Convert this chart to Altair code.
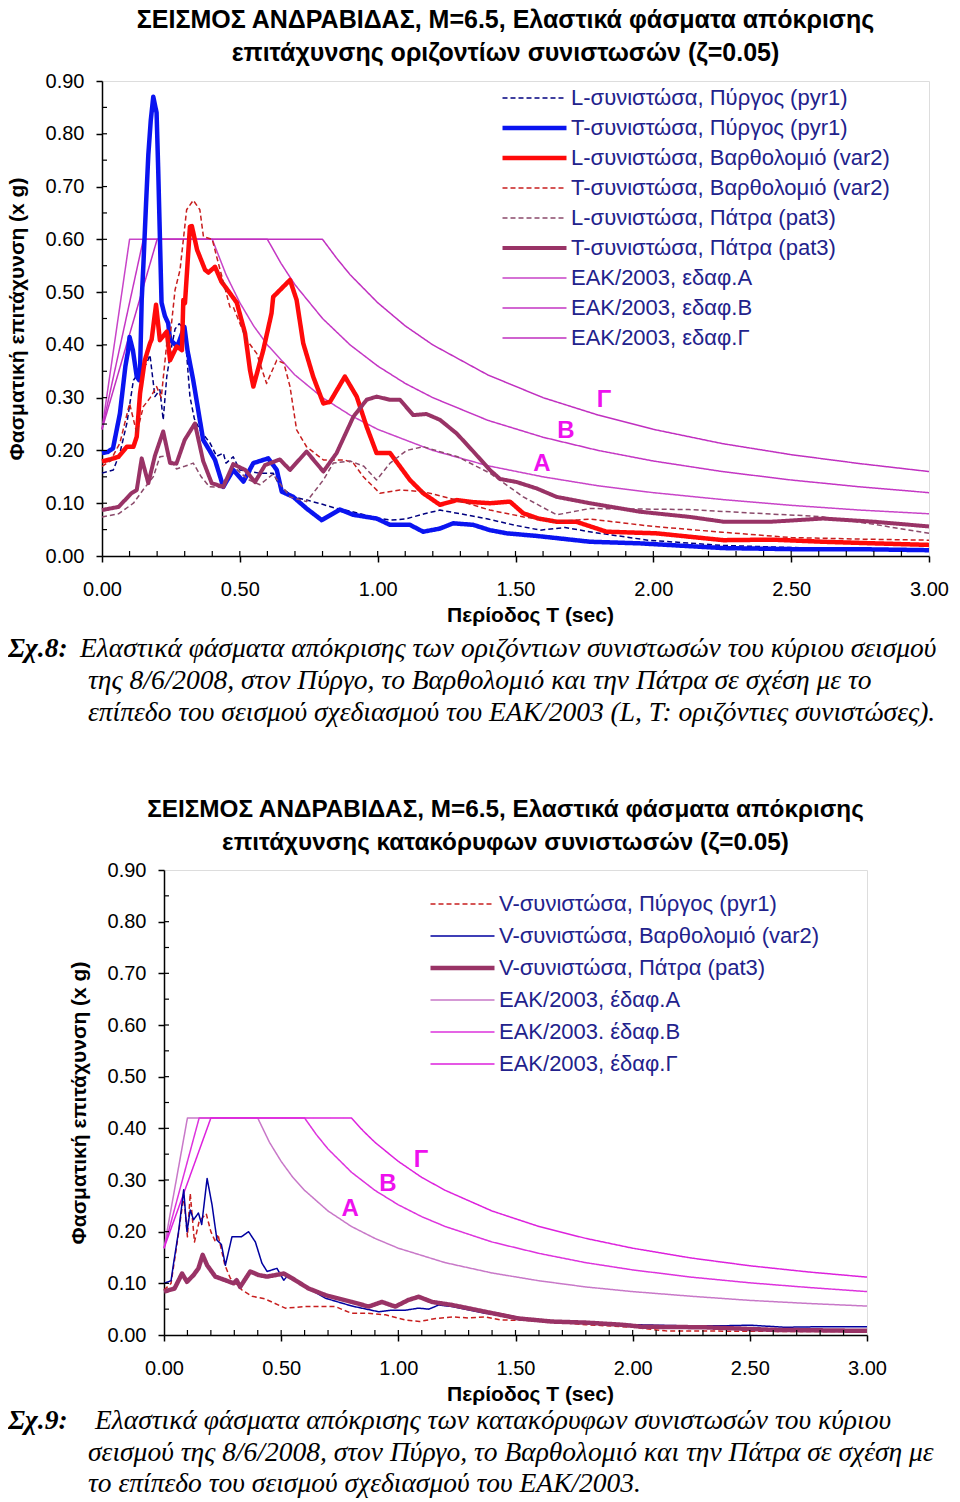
import altair as alt
import pandas as pd

FONT = "Liberation Sans"
SERIF = "Liberation Serif"

# ---------------- Chart 1 (horizontal components) ----------------
S1 = ["L-συνιστώσα, Πύργος (pyr1)", "T-συνιστώσα, Πύργος (pyr1)",
      "L-συνιστώσα, Βαρθολομιό (var2)", "T-συνιστώσα, Βαρθολομιό (var2)",
      "L-συνιστώσα, Πάτρα (pat3)", "T-συνιστώσα, Πάτρα (pat3)",
      "ΕΑΚ/2003, εδαφ.Α", "ΕΑΚ/2003, εδαφ.Β", "ΕΑΚ/2003, εδαφ.Γ"]

L_pyr1_T = [0.0, 0.041, 0.065, 0.09, 0.114, 0.138, 0.162, 0.174, 0.192, 0.21, 0.222, 0.235, 0.25, 0.265, 0.28, 0.3,
            0.319, 0.335, 0.355, 0.392, 0.416, 0.44, 0.45, 0.476, 0.5, 0.57, 0.621, 0.645, 0.694, 0.75, 0.8, 0.85,
            0.9, 0.95, 1.0, 1.05, 1.1, 1.17, 1.226, 1.3, 1.4, 1.5, 1.59, 1.68, 1.78, 1.98, 2.25, 2.5, 2.75, 3.0]
L_pyr1_V = [0.157, 0.163, 0.195, 0.251, 0.333, 0.35, 0.365, 0.381, 0.302, 0.315, 0.258, 0.34, 0.39, 0.43, 0.44, 0.43,
            0.302, 0.26, 0.239, 0.214, 0.189, 0.195, 0.176, 0.188, 0.163, 0.157, 0.157, 0.132, 0.112, 0.105, 0.098, 0.09,
            0.085, 0.078, 0.072, 0.068, 0.07, 0.08, 0.087, 0.08, 0.07, 0.058, 0.049, 0.054, 0.045, 0.03, 0.02, 0.016, 0.014, 0.012]

T_pyr1_T = [0.0, 0.02, 0.04, 0.065, 0.085, 0.095, 0.1, 0.112, 0.126, 0.135, 0.138, 0.144, 0.15, 0.16, 0.168, 0.177,
            0.186, 0.198, 0.204, 0.21, 0.216, 0.228, 0.24, 0.247, 0.273, 0.299, 0.31, 0.331, 0.367, 0.39, 0.41, 0.44,
            0.476, 0.513, 0.549, 0.603, 0.634, 0.652, 0.694, 0.742, 0.797, 0.863, 0.912, 0.996, 1.045, 1.117, 1.165,
            1.226, 1.274, 1.347, 1.407, 1.468, 1.577, 1.77, 1.95, 2.254, 2.5, 2.73, 3.0]
T_pyr1_V = [0.195, 0.197, 0.204, 0.27, 0.36, 0.39, 0.415, 0.39, 0.34, 0.333, 0.35, 0.485, 0.55, 0.67, 0.76, 0.826,
            0.87, 0.84, 0.73, 0.605, 0.48, 0.455, 0.441, 0.41, 0.397, 0.434, 0.39, 0.333, 0.22, 0.2, 0.182, 0.131,
            0.163, 0.141, 0.176, 0.185, 0.163, 0.122, 0.112, 0.09, 0.068, 0.088, 0.078, 0.071, 0.059, 0.059, 0.046,
            0.052, 0.062, 0.059, 0.049, 0.043, 0.038, 0.027, 0.024, 0.015, 0.013, 0.013, 0.011]

L_var2_T = [0.0, 0.03, 0.06, 0.09, 0.114, 0.126, 0.138, 0.155, 0.174, 0.18, 0.196, 0.21, 0.235, 0.247, 0.271, 0.29,
            0.295, 0.301, 0.319, 0.326, 0.345, 0.374, 0.386, 0.41, 0.433, 0.464, 0.489, 0.519, 0.537, 0.549, 0.585,
            0.615, 0.621, 0.682, 0.706, 0.73, 0.766, 0.803, 0.827, 0.881, 0.924, 0.96, 0.996, 1.045, 1.117, 1.165,
            1.226, 1.287, 1.347, 1.407, 1.48, 1.528, 1.583, 1.649, 1.72, 1.83, 2.01, 2.254, 2.43, 2.616, 2.8, 3.0]
L_var2_V = [0.179, 0.183, 0.188, 0.207, 0.207, 0.226, 0.308, 0.37, 0.403, 0.41, 0.476, 0.409, 0.425, 0.371, 0.397, 0.39,
            0.485, 0.479, 0.624, 0.625, 0.58, 0.542, 0.537, 0.548, 0.52, 0.498, 0.48, 0.422, 0.352, 0.321, 0.39,
            0.46, 0.491, 0.523, 0.485, 0.403, 0.34, 0.289, 0.292, 0.34, 0.302, 0.245, 0.195, 0.195, 0.144, 0.119,
            0.097, 0.106, 0.102, 0.1, 0.103, 0.081, 0.071, 0.065, 0.065, 0.046, 0.043, 0.03, 0.031, 0.027, 0.024, 0.021]

T_var2_T = [0.0, 0.03, 0.065, 0.1, 0.126, 0.15, 0.175, 0.198, 0.215, 0.235, 0.247, 0.265, 0.283, 0.307, 0.331, 0.355,
            0.368, 0.4, 0.416, 0.464, 0.476, 0.525, 0.561, 0.597, 0.634, 0.66, 0.682, 0.706, 0.742, 0.803, 0.88, 0.912,
            0.948, 1.008, 1.08, 1.165, 1.287, 1.407, 1.53, 1.65, 1.77, 2.0, 2.25, 2.5, 2.75, 3.0]
T_var2_V = [0.17, 0.18, 0.214, 0.289, 0.233, 0.283, 0.3, 0.321, 0.3, 0.403, 0.415, 0.504, 0.542, 0.656, 0.674, 0.656,
            0.605, 0.6, 0.567, 0.472, 0.472, 0.409, 0.384, 0.327, 0.371, 0.365, 0.321, 0.239, 0.207, 0.182, 0.182, 0.176,
            0.15, 0.119, 0.125, 0.122, 0.106, 0.087, 0.074, 0.065, 0.07, 0.056, 0.045, 0.035, 0.032, 0.03]

L_pat3_T = [0.0, 0.06, 0.114, 0.15, 0.186, 0.21, 0.24, 0.27, 0.3, 0.331, 0.36, 0.39, 0.43, 0.476, 0.53, 0.573, 0.62,
            0.682, 0.742, 0.803, 0.839, 0.9, 0.95, 0.996, 1.045, 1.105, 1.165, 1.29, 1.407, 1.528, 1.65, 1.77, 2.13,
            2.37, 2.6, 2.8, 3.0]
L_pat3_V = [0.074, 0.08, 0.1, 0.126, 0.15, 0.188, 0.19, 0.165, 0.17, 0.176, 0.15, 0.131, 0.13, 0.17, 0.145, 0.135, 0.155,
            0.112, 0.103, 0.144, 0.176, 0.18, 0.17, 0.144, 0.176, 0.2, 0.207, 0.188, 0.157, 0.112, 0.078, 0.09, 0.088,
            0.081, 0.075, 0.06, 0.043]

T_pat3_T = [0.0, 0.06, 0.107, 0.126, 0.144, 0.168, 0.192, 0.222, 0.247, 0.27, 0.3, 0.337, 0.367, 0.398, 0.44, 0.476,
            0.52, 0.555, 0.591, 0.645, 0.682, 0.742, 0.803, 0.851, 0.912, 0.96, 0.996, 1.045, 1.081, 1.129, 1.177,
            1.226, 1.287, 1.347, 1.407, 1.444, 1.505, 1.577, 1.649, 1.77, 1.95, 2.133, 2.254, 2.43, 2.616, 2.8, 3.0]
T_pat3_V = [0.087, 0.093, 0.119, 0.125, 0.185, 0.138, 0.19, 0.236, 0.176, 0.175, 0.22, 0.251, 0.18, 0.138, 0.131, 0.174,
            0.163, 0.14, 0.172, 0.183, 0.163, 0.198, 0.16, 0.195, 0.264, 0.296, 0.302, 0.296, 0.296, 0.267, 0.269,
            0.258, 0.232, 0.198, 0.163, 0.146, 0.14, 0.128, 0.112, 0.1, 0.084, 0.074, 0.065, 0.065, 0.071, 0.065, 0.056]

EAK1_A_T = [0.0, 0.1, 0.4, 0.45, 0.5, 0.55, 0.6, 0.7, 0.8, 0.9, 1.0, 1.2, 1.4, 1.6, 1.8, 2.0, 2.25, 2.5, 2.75, 3.0]
EAK1_A_V = [0.24, 0.6, 0.6, 0.533, 0.48, 0.436, 0.4, 0.343, 0.3, 0.267, 0.24, 0.2, 0.171, 0.15, 0.133, 0.12, 0.107, 0.096, 0.087, 0.08]
EAK1_B_T = [0.0, 0.15, 0.6, 0.65, 0.7, 0.8, 0.9, 1.0, 1.1, 1.2, 1.4, 1.6, 1.8, 2.0, 2.25, 2.5, 2.75, 3.0]
EAK1_B_V = [0.24, 0.6, 0.6, 0.554, 0.514, 0.45, 0.4, 0.36, 0.327, 0.3, 0.257, 0.225, 0.2, 0.18, 0.16, 0.144, 0.131, 0.12]
EAK1_G_T = [0.0, 0.2, 0.8, 0.85, 0.9, 1.0, 1.1, 1.2, 1.4, 1.6, 1.8, 2.0, 2.25, 2.5, 2.75, 3.0]
EAK1_G_V = [0.24, 0.6, 0.6, 0.565, 0.533, 0.48, 0.436, 0.4, 0.343, 0.3, 0.267, 0.24, 0.213, 0.192, 0.175, 0.16]

COL1 = ["#000080", "#0a14f0", "#ff0a0a", "#c81e1e", "#8b4a6b", "#993366", "#c844c8", "#c436c4", "#c030c0"]
WID1 = [1.5, 4.5, 4.5, 1.5, 1.5, 4, 1.5, 1.5, 1.5]
DASH1 = [[5, 3], [1, 0], [1, 0], [5, 3], [5, 3], [1, 0], [1, 0], [1, 0], [1, 0]]

TITLE1 = ["ΣΕΙΣΜΟΣ ΑΝΔΡΑΒΙΔΑΣ, M=6.5, Ελαστικά φάσματα απόκρισης",
          "επιτάχυνσης οριζοντίων συνιστωσών (ζ=0.05)"]
CAP1_HEAD = "Σχ.8:"
CAP1 = ["Ελαστικά φάσματα απόκρισης των οριζόντιων συνιστωσών του κύριου σεισμού",
        "της 8/6/2008, στον Πύργο, το Βαρθολομιό και την Πάτρα σε σχέση με το",
        "επίπεδο του σεισμού σχεδιασμού του ΕΑΚ/2003 (L, T: οριζόντιες συνιστώσες)."]
LAB1_T = [1.596, 1.683, 1.821]
LAB1_V = [0.174, 0.237, 0.296]
LAB_TXT = ["Α", "Β", "Γ"]

# ---------------- Chart 2 (vertical components) ----------------
S2 = ["V-συνιστώσα, Πύργος (pyr1)", "V-συνιστώσα, Βαρθολομιό (var2)", "V-συνιστώσα, Πάτρα (pat3)",
      "ΕΑΚ/2003, έδαφ.Α", "ΕΑΚ/2003. έδαφ.Β", "ΕΑΚ/2003, έδαφ.Γ"]

V_pyr1_T = [0.0, 0.03, 0.05, 0.063, 0.084, 0.1, 0.112, 0.13, 0.15, 0.18, 0.2, 0.22, 0.23, 0.26, 0.283, 0.333, 0.376,
            0.43, 0.518, 0.6, 0.66, 0.731, 0.8, 0.87, 0.945, 1.03, 1.09, 1.16, 1.23, 1.3, 1.37, 1.44, 1.58, 1.8, 2.0,
            2.14, 2.6, 3.0]
V_pyr1_V = [0.087, 0.1, 0.16, 0.2, 0.27, 0.19, 0.274, 0.18, 0.22, 0.235, 0.2, 0.18, 0.195, 0.135, 0.11, 0.087, 0.075,
            0.07, 0.052, 0.055, 0.055, 0.055, 0.042, 0.042, 0.039, 0.029, 0.026, 0.032, 0.035, 0.033, 0.035, 0.029,
            0.028, 0.02, 0.015, 0.008, 0.007, 0.007]

V_var2_T = [0.0, 0.03, 0.041, 0.063, 0.084, 0.098, 0.112, 0.126, 0.147, 0.161, 0.184, 0.205, 0.226, 0.245, 0.262,
            0.29, 0.33, 0.361, 0.39, 0.418, 0.44, 0.482, 0.511, 0.53, 0.617, 0.69, 0.802, 0.916, 0.97, 1.03, 1.087,
            1.13, 1.172, 1.23, 1.371, 1.513, 1.656, 1.8, 2.0, 2.2, 2.4, 2.5, 2.65, 2.8, 3.0]
V_var2_V = [0.1, 0.105, 0.139, 0.203, 0.281, 0.2, 0.242, 0.223, 0.236, 0.214, 0.303, 0.252, 0.184, 0.175, 0.135,
            0.19, 0.19, 0.2, 0.18, 0.139, 0.123, 0.129, 0.106, 0.116, 0.09, 0.071, 0.056, 0.045, 0.048, 0.048, 0.052,
            0.05, 0.058, 0.055, 0.042, 0.033, 0.026, 0.024, 0.02, 0.018, 0.018, 0.019, 0.015, 0.016, 0.016]

V_pat3_T = [0.0, 0.045, 0.077, 0.098, 0.126, 0.147, 0.165, 0.184, 0.219, 0.262, 0.297, 0.31, 0.325, 0.368, 0.404, 0.44,
            0.511, 0.546, 0.617, 0.69, 0.802, 0.873, 0.93, 0.987, 1.044, 1.087, 1.144, 1.23, 1.371, 1.513, 1.656, 1.8,
            1.95, 2.04, 2.3, 2.6, 3.0]
V_pat3_V = [0.084, 0.09, 0.119, 0.103, 0.116, 0.129, 0.155, 0.135, 0.113, 0.106, 0.1, 0.106, 0.093, 0.123, 0.116, 0.113,
            0.119, 0.11, 0.09, 0.077, 0.064, 0.055, 0.064, 0.055, 0.068, 0.074, 0.064, 0.058, 0.045, 0.032, 0.026, 0.024,
            0.02, 0.016, 0.015, 0.01, 0.008]

EAK2_A_T = [0.0, 0.1, 0.4, 0.45, 0.5, 0.55, 0.6, 0.7, 0.8, 0.9, 1.0, 1.2, 1.4, 1.6, 1.8, 2.0, 2.25, 2.5, 2.75, 3.0]
EAK2_A_V = [0.168, 0.42, 0.42, 0.373, 0.336, 0.305, 0.28, 0.24, 0.21, 0.187, 0.168, 0.14, 0.12, 0.105, 0.093, 0.084, 0.075, 0.067, 0.061, 0.056]
EAK2_B_T = [0.0, 0.15, 0.6, 0.65, 0.7, 0.8, 0.9, 1.0, 1.1, 1.2, 1.4, 1.6, 1.8, 2.0, 2.25, 2.5, 2.75, 3.0]
EAK2_B_V = [0.168, 0.42, 0.42, 0.388, 0.36, 0.315, 0.28, 0.252, 0.229, 0.21, 0.18, 0.158, 0.14, 0.126, 0.112, 0.101, 0.092, 0.084]
EAK2_G_T = [0.0, 0.2, 0.8, 0.85, 0.9, 1.0, 1.1, 1.2, 1.4, 1.6, 1.8, 2.0, 2.25, 2.5, 2.75, 3.0]
EAK2_G_V = [0.168, 0.42, 0.42, 0.395, 0.373, 0.336, 0.305, 0.28, 0.24, 0.21, 0.187, 0.168, 0.149, 0.134, 0.122, 0.112]

COL2 = ["#c81e1e", "#0000a0", "#993366", "#c878c8", "#dd33dd", "#dd22dd"]
WID2 = [1.5, 1.5, 4.5, 1.5, 1.5, 1.5]
DASH2 = [[5, 3], [1, 0], [1, 0], [1, 0], [1, 0], [1, 0]]

TITLE2 = ["ΣΕΙΣΜΟΣ ΑΝΔΡΑΒΙΔΑΣ, M=6.5, Ελαστικά φάσματα απόκρισης",
          "επιτάχυνσης κατακόρυφων συνιστωσών (ζ=0.05)"]
CAP2_HEAD = "Σχ.9:"
CAP2 = ["Ελαστικά φάσματα απόκρισης των κατακόρυφων συνιστωσών του κύριου",
        "σεισμού της 8/6/2008, στον Πύργο, το Βαρθολομιό και την Πάτρα σε σχέση με",
        "το επίπεδο του σεισμού σχεδιασμού του ΕΑΚ/2003."]
LAB2_T = [0.794, 0.956, 1.097]
LAB2_V = [0.244, 0.292, 0.339]

X_MAJOR = [0.0, 0.5, 1.0, 1.5, 2.0, 2.5, 3.0]
Y_MAJOR = [0.0, 0.1, 0.2, 0.3, 0.4, 0.5, 0.6, 0.7, 0.8, 0.9]
X_MINOR = [round(i * 0.1, 2) for i in range(1, 30)]
Y_MINOR = [round(i * 0.05, 2) for i in range(1, 18)]


def long_df(names, pairs):
    rows = []
    for name, (ts, vs) in zip(names, pairs):
        for t, v in zip(ts, vs):
            rows.append({"series": name, "T": t, "v": v})
    return pd.DataFrame(rows)


def build(names, pairs, cols, wids, dashes, W, H, title, title_size, legend_x, legend_y, clip,
          lab_t, lab_v, cap_head, cap_lines, cap_pos, xtitle_x):
    df = long_df(names, pairs)
    # draw design spectra underneath
    df = pd.concat([df[df["series"].str.startswith("ΕΑΚ")], df[~df["series"].str.startswith("ΕΑΚ")]])
    xs = alt.Scale(domain=[0, 3], nice=False, zero=False)
    ys = alt.Scale(domain=[0, 0.9], nice=False, zero=False)
    xax = alt.Axis(values=X_MAJOR, format=".2f", title="Περίοδος T (sec)", titleFont=FONT, titleFontSize=21,
                   titleFontWeight="bold", titleColor="black", titlePadding=5, titleX=xtitle_x,
                   labelFont=FONT, labelFontSize=20, labelColor="black", labelPadding=17,
                   tickSize=6, tickColor="black", tickWidth=1.5, domainColor="black", domainWidth=1.5,
                   grid=False, labelFlush=False)
    yax = alt.Axis(values=Y_MAJOR, format=".2f", title="Φασματική επιτάχυνση (x g)", titleFont=FONT,
                   titleFontSize=21, titleFontWeight="bold", titleColor="black", titlePadding=18,
                   labelFont=FONT, labelFontSize=20, labelColor="black", labelPadding=12,
                   tickSize=6, tickColor="black", tickWidth=1.5, domainColor="black", domainWidth=1.5,
                   grid=False)
    leg = alt.Legend(orient="none", legendX=legend_x, legendY=legend_y, title=None, symbolType="stroke",
                     symbolSize=4096, clipHeight=clip, rowPadding=0, labelFont=FONT, labelFontSize=22,
                     labelColor="#22228c", labelOffset=2, padding=0, labelLimit=500)
    lines = alt.Chart(df).mark_line(strokeJoin="round", strokeCap="butt").encode(
        x=alt.X("T:Q", scale=xs, axis=xax),
        y=alt.Y("v:Q", scale=ys, axis=yax),
        color=alt.Color("series:N", scale=alt.Scale(domain=names, range=cols), legend=leg),
        strokeDash=alt.StrokeDash("series:N", scale=alt.Scale(domain=names, range=dashes), legend=leg),
        strokeWidth=alt.StrokeWidth("series:N", scale=alt.Scale(type="ordinal", domain=names, range=wids),
                                    legend=leg),
        detail="series:N",
    )
    labs = alt.Chart(pd.DataFrame({"T": lab_t, "v": lab_v, "t": LAB_TXT})).mark_text(
        font=FONT, fontSize=24, fontWeight="bold", color="#ee11ee", align="center", baseline="middle"
    ).encode(x=alt.X("T:Q", scale=xs), y=alt.Y("v:Q", scale=ys), text="t:N")
    xmin = alt.Chart(pd.DataFrame({"T": X_MINOR})).mark_rule(color="black", strokeWidth=1.2).encode(
        x=alt.X("T:Q", scale=xs), y=alt.value(H), y2=alt.value(H - 5))
    ymin = alt.Chart(pd.DataFrame({"v": Y_MINOR})).mark_rule(color="black", strokeWidth=1.2).encode(
        y=alt.Y("v:Q", scale=ys), x=alt.value(0), x2=alt.value(5))
    layers = [lines, labs, xmin, ymin]
    hx, l1x, lx, y0, dy = cap_pos
    layers.append(alt.Chart(pd.DataFrame({"t": [cap_head]})).mark_text(
        align="left", baseline="alphabetic", font=SERIF, fontSize=27.5, fontStyle="italic", fontWeight="bold",
        color="black").encode(x=alt.value(hx), y=alt.value(y0), text="t:N"))
    for i, line in enumerate(cap_lines):
        layers.append(alt.Chart(pd.DataFrame({"t": [line]})).mark_text(
            align="left", baseline="alphabetic", font=SERIF, fontSize=27.5, fontStyle="italic",
            color="black").encode(x=alt.value(l1x if i == 0 else lx), y=alt.value(y0 + i * dy), text="t:N"))
    return alt.layer(*layers).properties(
        width=W, height=H,
        title=alt.Title(text=title, font=FONT, fontSize=title_size, fontWeight="bold", color="black",
                        anchor="middle", dx=-10, offset=5, lineHeight=33),
    )


c1 = build(S1, [(L_pyr1_T, L_pyr1_V), (T_pyr1_T, T_pyr1_V), (L_var2_T, L_var2_V), (T_var2_T, T_var2_V),
                (L_pat3_T, L_pat3_V), (T_pat3_T, T_pat3_V), (EAK1_A_T, EAK1_A_V), (EAK1_B_T, EAK1_B_V),
                (EAK1_G_T, EAK1_G_V)],
           COL1, WID1, DASH1, 827, 475, TITLE1, 25, 398, 2, 30, LAB1_T, LAB1_V,
           CAP1_HEAD, CAP1, (-94, -22, -14, 576, 32), 428)

c2 = build(S2, [(V_pyr1_T, V_pyr1_V), (V_var2_T, V_var2_V), (V_pat3_T, V_pat3_V),
                (EAK2_A_T, EAK2_A_V), (EAK2_B_T, EAK2_B_V), (EAK2_G_T, EAK2_G_V)],
           COL2, WID2, DASH2, 703, 465, TITLE2, 24.3, 264, 18, 32, LAB2_T, LAB2_V,
           CAP2_HEAD, CAP2, (-156, -69, -76, 559, 31.5), 366)

chart = alt.vconcat(c1, c2, spacing=314, bounds="flush", center=True).resolve_scale(
    x="independent", y="independent", color="independent", strokeDash="independent", strokeWidth="independent"
).properties(padding={"left": -3, "top": -1, "right": 0, "bottom": 0}).configure_view(
    stroke="#8c8c8c", strokeWidth=1.5).configure(background="white")

chart.save("out.html", embed_options={"renderer": "svg", "actions": False})
